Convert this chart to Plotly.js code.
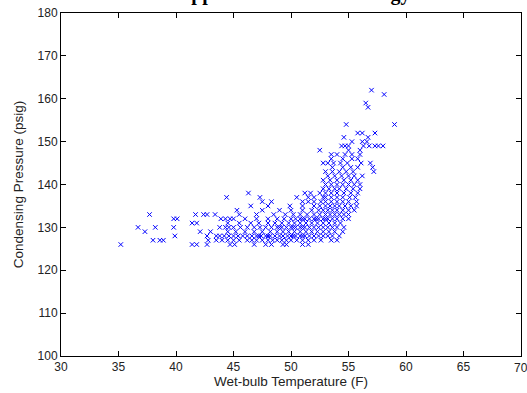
<!DOCTYPE html>
<html>
<head>
<meta charset="utf-8">
<script src="https://cdn.plot.ly/plotly-3.0.1.min.js"></script>
<style>html,body{margin:0;padding:0;background:#fff;}#chart{width:527px;height:393px;}</style>
</head>
<body>
<div id="chart"></div>
<script>
// Condensing pressure (psig) rows, and the wet-bulb temperatures (F) observed at each
const pressureRows = [126,127,128,129,130,131,132,133,134,135,136,137,138,139,140,141,142,143,144,145,146,147,148,149,150,151,152,154,158,159,161,162];
const wetBulbByRow = [
  [35.2, 41.4, 41.8, 42.7, 44.7, 45.1, 46.8, 47.8, 48.3, 49.3, 49.6, 51.0, 51.5],
  [38.0, 38.6, 38.9, 42.8, 43.5, 44.0, 44.5, 45.0, 45.5, 46.2, 46.6, 47.0, 47.5, 48.0, 48.4, 48.8, 49.2, 49.6, 50.0, 50.5, 51.0, 51.5, 52.0, 52.6, 53.5, 54.0],
  [39.9, 42.7, 43.5, 43.8, 44.2, 44.6, 45.0, 45.4, 45.8, 46.2, 46.6, 47.0, 47.2, 47.4, 47.8, 48.0, 48.2, 48.6, 49.0, 49.3, 49.7, 50.0, 50.2, 50.4, 50.8, 51.0, 51.2, 51.6, 52.0, 52.4, 52.8, 53.2, 53.6, 54.2],
  [37.3, 42.1, 43.0, 44.5, 45.2, 46.0, 46.8, 47.5, 48.2, 48.8, 49.3, 49.8, 50.3, 50.8, 51.3, 51.8, 52.3, 52.8, 53.3, 53.8, 54.5],
  [36.7, 38.2, 39.8, 43.8, 44.3, 44.6, 45.0, 45.6, 46.2, 46.8, 47.3, 47.8, 48.3, 48.8, 49.0, 49.2, 49.6, 50.0, 50.2, 50.4, 50.8, 51.0, 51.2, 51.6, 52.0, 52.4, 52.8, 53.2, 53.6, 54.0, 54.6],
  [41.4, 41.8, 44.5, 45.5, 46.5, 47.2, 48.0, 48.6, 49.2, 49.8, 50.3, 50.8, 51.3, 51.8, 52.3, 52.8, 53.3, 53.8, 54.3],
  [39.8, 40.1, 43.9, 44.3, 44.7, 45.0, 46.0, 47.0, 48.0, 48.8, 49.4, 50.0, 50.4, 50.8, 51.0, 51.2, 51.6, 52.0, 52.2, 52.4, 52.8, 53.0, 53.2, 53.6, 54.0, 54.5, 55.0],
  [37.7, 41.7, 42.4, 42.7, 43.4, 45.5, 47.0, 48.5, 49.5, 50.2, 50.8, 51.4, 52.0, 52.5, 53.0, 53.4, 53.8, 54.2, 54.6, 55.0],
  [45.3, 47.5, 49.0, 50.0, 51.0, 51.8, 52.4, 52.8, 53.2, 53.6, 54.0, 54.5, 55.0, 55.5],
  [46.5, 48.0, 49.9, 51.0, 52.0, 52.5, 53.0, 53.4, 53.8, 54.2, 54.7, 55.2, 55.7],
  [47.5, 48.3, 51.0, 51.5, 52.0, 52.6, 53.0, 53.5, 54.0, 54.5, 55.0, 55.7],
  [44.4, 47.3, 50.5, 51.5, 52.0, 52.8, 53.0, 53.5, 54.0, 54.5, 55.1, 55.6],
  [46.3, 51.2, 51.7, 52.5, 53.0, 53.5, 54.0, 54.6, 55.2, 55.8],
  [52.8, 53.3, 53.8, 54.2, 54.8, 55.4, 56.0],
  [53.0, 53.5, 54.0, 54.5, 55.0, 55.5, 56.0],
  [52.8, 53.4, 54.0, 54.6, 55.2, 55.8],
  [53.2, 53.8, 54.4, 55.0, 55.5, 56.2],
  [53.0, 53.6, 54.2, 54.8, 55.4, 57.2],
  [53.6, 54.5, 55.2, 55.8, 57.1],
  [52.8, 53.2, 53.7, 54.3, 54.9, 56.1, 56.9],
  [53.5, 54.5, 55.3, 55.8],
  [53.5, 54.0, 54.7, 55.3, 56.0],
  [52.5, 55.0, 56.0],
  [54.4, 54.7, 55.0, 56.3, 56.8, 57.3, 57.6, 58.0],
  [55.3, 56.2, 56.6],
  [54.6, 56.7],
  [55.8, 56.2, 57.3],
  [54.8, 59.0],
  [56.7],
  [56.5],
  [58.1],
  [57.0]
];
const xTicks = [30, 35, 40, 45, 50, 55, 60, 65, 70];
const yTicks = [100, 110, 120, 130, 140, 150, 160, 170, 180];
const chartTitle = 'Fixed Approach Control Strategy';
const xTitle = 'Wet-bulb Temperature (F)';
const yTitle = 'Condensing Pressure (psig)';

const xs = [], ys = [];
pressureRows.forEach((p, i) => {
  wetBulbByRow[i].forEach(t => { xs.push(t); ys.push(p); });
});

const axisFont = {family: 'Liberation Sans, Arial, sans-serif', size: 12, color: '#222'};
const labelFont = {family: 'Liberation Sans, Arial, sans-serif', size: 13.5, color: '#222'};
const common = {
  showgrid: false, zeroline: false, showline: true, linecolor: '#000', linewidth: 1,
  mirror: 'ticks', ticks: 'inside', ticklen: 5, tickcolor: '#000', tickwidth: 1,
  tickfont: axisFont, automargin: false
};

// the last x tick label sits on the right edge of the figure and is cut there
const lastX = xTicks[xTicks.length - 1];

Plotly.newPlot('chart', [{
  x: xs, y: ys, type: 'scatter', mode: 'markers',
  marker: {symbol: 'x-thin-open', size: 4.5, color: '#0000ff', line: {color: '#0000ff', width: 1}},
  hoverinfo: 'none'
}], {
  width: 527, height: 393,
  margin: {l: 61, r: 6, t: 13, b: 37},
  paper_bgcolor: '#fff', plot_bgcolor: '#fff',
  showlegend: false,
  title: {text: '<b>' + chartTitle + '</b>', font: {family: 'Liberation Serif, Times New Roman, serif', size: 20, color: '#000'},
          x: 0.508, xref: 'container', y: 1, yref: 'container', yanchor: 'bottom', pad: {t: 0, b: 0}},
  xaxis: Object.assign({}, common, {range: [30, 70], tickvals: xTicks.slice(0, -1), ticktext: xTicks.slice(0, -1).map(String),
    title: {text: xTitle, font: labelFont, standoff: 3}}),
  yaxis: Object.assign({}, common, {range: [100, 180], tickvals: yTicks, ticktext: yTicks.map(String),
    title: {text: yTitle, font: labelFont, standoff: 10}}),
  annotations: [{
    x: lastX, xref: 'x', y: 0, yref: 'paper', yshift: -3,
    text: String(lastX), showarrow: false, xanchor: 'center', yanchor: 'top',
    font: axisFont
  }]
}, {displayModeBar: false, staticPlot: true});
</script>
</body>
</html>
